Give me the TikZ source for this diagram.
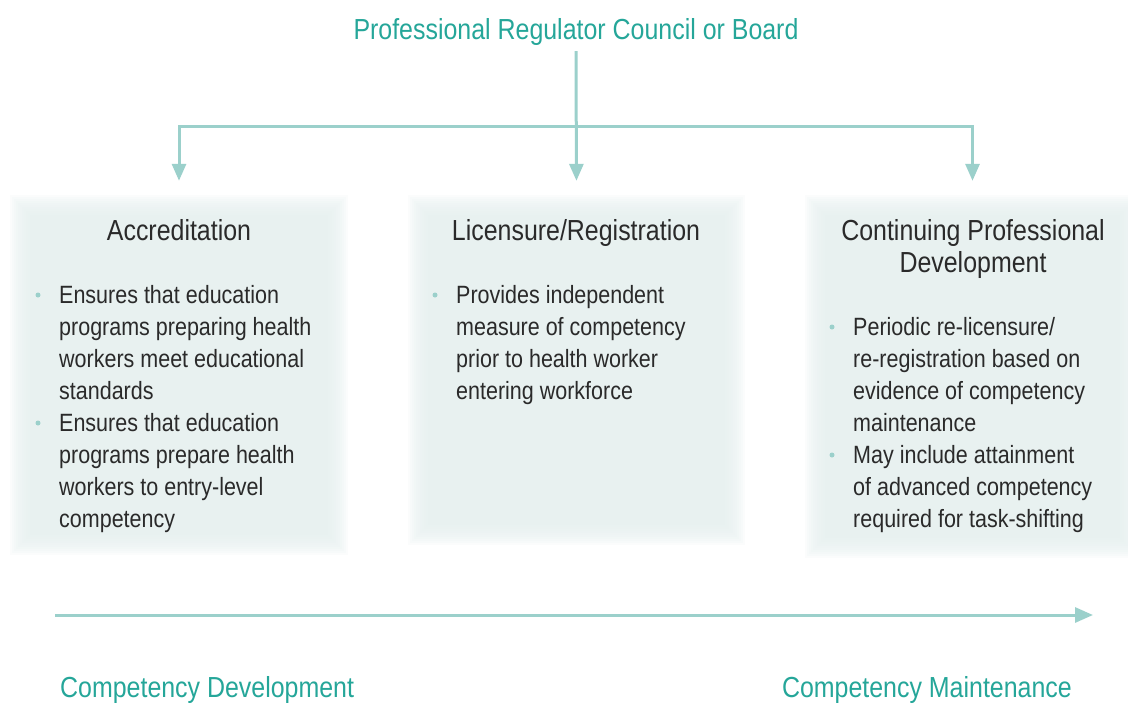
\documentclass[tikz,border=0pt]{standalone}
\usepackage{fontspec}
\setmainfont[FakeStretch=0.86]{Liberation Sans}
\usetikzlibrary{arrows.meta,calc}

\definecolor{tealline}{HTML}{9BD0CB}
\definecolor{tealtext}{HTML}{25A699}
\definecolor{panelfill}{RGB}{229,239,238}
\definecolor{ink}{HTML}{2A2A2A}

\tikzset{
  conn/.style={draw=tealline, line width=3pt, line join=miter,
    -{Triangle[width=14pt,length=17pt]}},
  panel/.style={rectangle, inner sep=0, draw=none},
  heading/.style={text=ink, font=\fontsize{29}{32}\selectfont, align=center, inner sep=0},
  body/.style={text=ink, font=\fontsize{25}{32}\selectfont, align=left, inner sep=0, anchor=base west},
  caption/.style={text=tealtext, font=\fontsize{29}{32}\selectfont, inner sep=0},
  dot/.style={circle, fill=tealline, inner sep=0, minimum size=5pt},
}

% soft-edged panel behind a node: stacked translucent insets
\newcommand\softpanel[1]{%
  \foreach \i in {0,2,...,22}{%
    \fill[panelfill, opacity=0.17]
      ($(#1.south west)+(\i,-\i)$) rectangle ($(#1.north east)+(-\i,\i)$);
  }%
}

\begin{document}
\begin{tikzpicture}[x=1pt,y=-1pt]
  \useasboundingbox (0,0) rectangle (1128,702);
  \clip (0,0) rectangle (1128,702);

  % panels
  \node[panel, minimum width=338pt, minimum height=360pt] (acc) at (179,375) {};
  \node[panel, minimum width=337pt, minimum height=350pt] (lic) at (576.5,370) {};
  \node[panel, minimum width=335pt, minimum height=363pt] (cpd) at (972.5,376.5) {};
  \softpanel{acc}
  \softpanel{lic}
  \softpanel{cpd}

  % regulator and its branches
  \node[caption, anchor=base] (top) at (576,39) {Professional Regulator Council or Board};
  \coordinate (split) at (576,126);
  \draw[conn, shorten >=14pt] (top.south) ++(0,6) -- (lic.north);
  \draw[conn, shorten >=14pt] (split) -| (acc.north);
  \draw[conn, shorten >=14pt] (split) -| (cpd.north);

  % panel headings (base = baseline of the last line)
  \node[heading, anchor=base] (acct) at (179,240) {Accreditation};
  \node[heading, anchor=base] (lict) at (576,240) {Licensure/Registration};
  \node[heading, anchor=base] (cpdt) at (973,272) {Continuing Professional\\Development};

  % accreditation bullets
  \node[dot] (accd1) at (38,295) {};
  \node[body] (accb1) at (59,399) {Ensures that education\\programs preparing health\\workers meet educational\\standards};
  \node[dot] (accd2) at (38,423) {};
  \node[body] (accb2) at (59,527) {Ensures that education\\programs prepare health\\workers to entry-level\\competency};

  % licensure bullet
  \node[dot] (licd1) at (435,295) {};
  \node[body] (licb1) at (456,399) {Provides independent\\measure of competency\\prior to health worker\\entering workforce};

  % continuing development bullets
  \node[dot] (cpdd1) at (832,327) {};
  \node[body] (cpdb1) at (853,431) {Periodic re-licensure/\\re-registration based on\\evidence of competency\\maintenance};
  \node[dot] (cpdd2) at (832,455) {};
  \node[body] (cpdb2) at (853,527) {May include attainment\\of advanced competency\\required for task-shifting};

  % competency axis
  \coordinate (axstart) at (55,615);
  \coordinate (axend) at (1093,615);
  \draw[draw=tealline, line width=3pt, -{Triangle[width=15pt,length=18pt]}] (axstart) -- (axend);
  \node[caption, anchor=base west] (dev) at (60,697) {Competency Development};
  \node[caption, anchor=base east] (mnt) at (1072,697) {Competency Maintenance};
\end{tikzpicture}
\end{document}
